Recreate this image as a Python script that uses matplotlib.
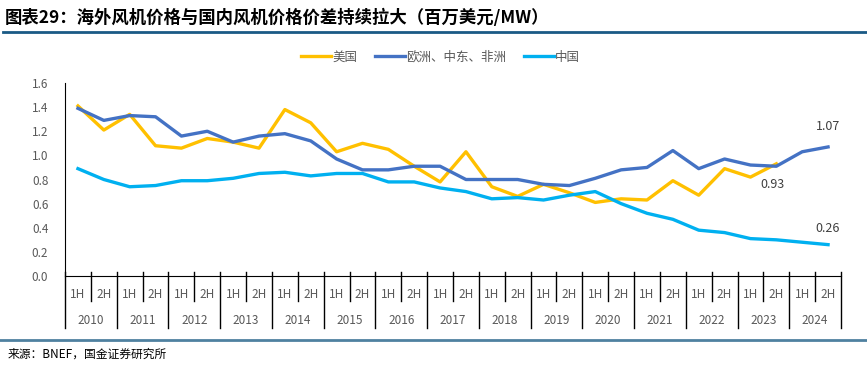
import numpy as np
import matplotlib
matplotlib.use('Agg')
import matplotlib.pyplot as plt
import matplotlib.transforms as mtransforms

plt.rcParams['font.family'] = ['Noto Sans CJK SC', 'DejaVu Sans']

# 数据（百万美元/MW），2010 1H ~ 2024 2H
years = [str(y) for y in range(2010, 2025)]
halves = ['1H', '2H']
us = [1.41, 1.21, 1.34, 1.08, 1.06, 1.14, 1.11, 1.06, 1.38, 1.27,
      1.03, 1.10, 1.05, 0.91, 0.78, 1.03, 0.74, 0.66, 0.76, 0.69,
      0.61, 0.64, 0.63, 0.79, 0.67, 0.89, 0.82, 0.93, np.nan, np.nan]
emea = [1.39, 1.29, 1.33, 1.32, 1.16, 1.20, 1.11, 1.16, 1.18, 1.12,
        0.97, 0.88, 0.88, 0.91, 0.91, 0.80, 0.80, 0.80, 0.76, 0.75,
        0.81, 0.88, 0.90, 1.04, 0.89, 0.97, 0.92, 0.91, 1.03, 1.07]
china = [0.89, 0.80, 0.74, 0.75, 0.79, 0.79, 0.81, 0.85, 0.86, 0.83,
         0.85, 0.85, 0.78, 0.78, 0.73, 0.70, 0.64, 0.65, 0.63, 0.67,
         0.70, 0.60, 0.52, 0.47, 0.38, 0.36, 0.31, 0.30, 0.28, 0.26]
names = ['美国', '欧洲、中东、非洲', '中国']
colors = ['#FFC000', '#4472C4', '#00B0F0']

n = len(emea)
x = np.arange(n)

fig = plt.figure(figsize=(8.67, 3.65), dpi=100)
ax = fig.add_axes([0.075, 0.2438, 0.895, 0.5288])

for vals, name, c in zip([us, emea, china], names, colors):
    ax.plot(x, vals, color=c, lw=2.4, label=name, solid_joinstyle='round')

ax.set_xlim(-0.5, n - 0.5)
ax.set_ylim(0, 1.6)
ax.set_yticks(np.arange(0, 1.61, 0.2))
ax.set_yticklabels(['%.1f' % v for v in np.arange(0, 1.61, 0.2)])
ax.tick_params(axis='y', length=0, pad=12, labelsize=8.5, labelcolor='#595959')
ax.set_xticks([])
for s in ['top', 'right']:
    ax.spines[s].set_visible(False)
ax.spines['left'].set_color('black')
ax.spines['bottom'].set_color('black')

# 两级横轴标签
tr = mtransforms.blended_transform_factory(ax.transData, ax.transAxes)
for i in range(n + 1):
    bottom = -0.27 if i % 2 == 0 else -0.13
    ax.plot([i - 0.5, i - 0.5], [0.02, bottom], color='black', lw=1,
            transform=tr, clip_on=False)
for i in range(n):
    ax.text(i, -0.095, halves[i % 2], transform=tr, ha='center', va='center',
            fontsize=8.5, color='#595959')
for j, y in enumerate(years):
    ax.text(2 * j + 0.5, -0.228, y, transform=tr, ha='center', va='center',
            fontsize=8.5, color='#595959')

# 数据标签
ax.annotate('1.07', (n - 1, emea[-1]), xytext=(0, 10), textcoords='offset points',
            ha='center', va='bottom', fontsize=9, color='#404040')
ax.annotate('0.93', (27, us[27]), xytext=(-3, -10), textcoords='offset points',
            ha='center', va='top', fontsize=9, color='#404040')
ax.annotate('0.26', (n - 1, china[-1]), xytext=(0, 7), textcoords='offset points',
            ha='center', va='bottom', fontsize=9, color='#404040')

leg = fig.legend(loc='center', bbox_to_anchor=(0.508, 0.843), ncol=3, frameon=False,
                 fontsize=9, handlelength=2.4, handletextpad=0.1, columnspacing=1.4)
for t in leg.get_texts():
    t.set_color('#595959')

fig.text(0.006, 0.952, '图表29：海外风机价格与国内风机价格价差持续拉大（百万美元/MW）',
         fontsize=12.5, fontweight='bold', style='italic', va='center', color='black')
fig.add_artist(plt.Line2D([0.003, 1], [0.912, 0.912], color='#1a5a85', lw=2))
fig.add_artist(plt.Line2D([0, 1], [0.069, 0.069], color='#4f81a0', lw=2))
fig.text(0.009, 0.030, '来源：BNEF，国金证券研究所', fontsize=8.5, va='center', color='black')

fig.savefig('out.png', dpi=100)
